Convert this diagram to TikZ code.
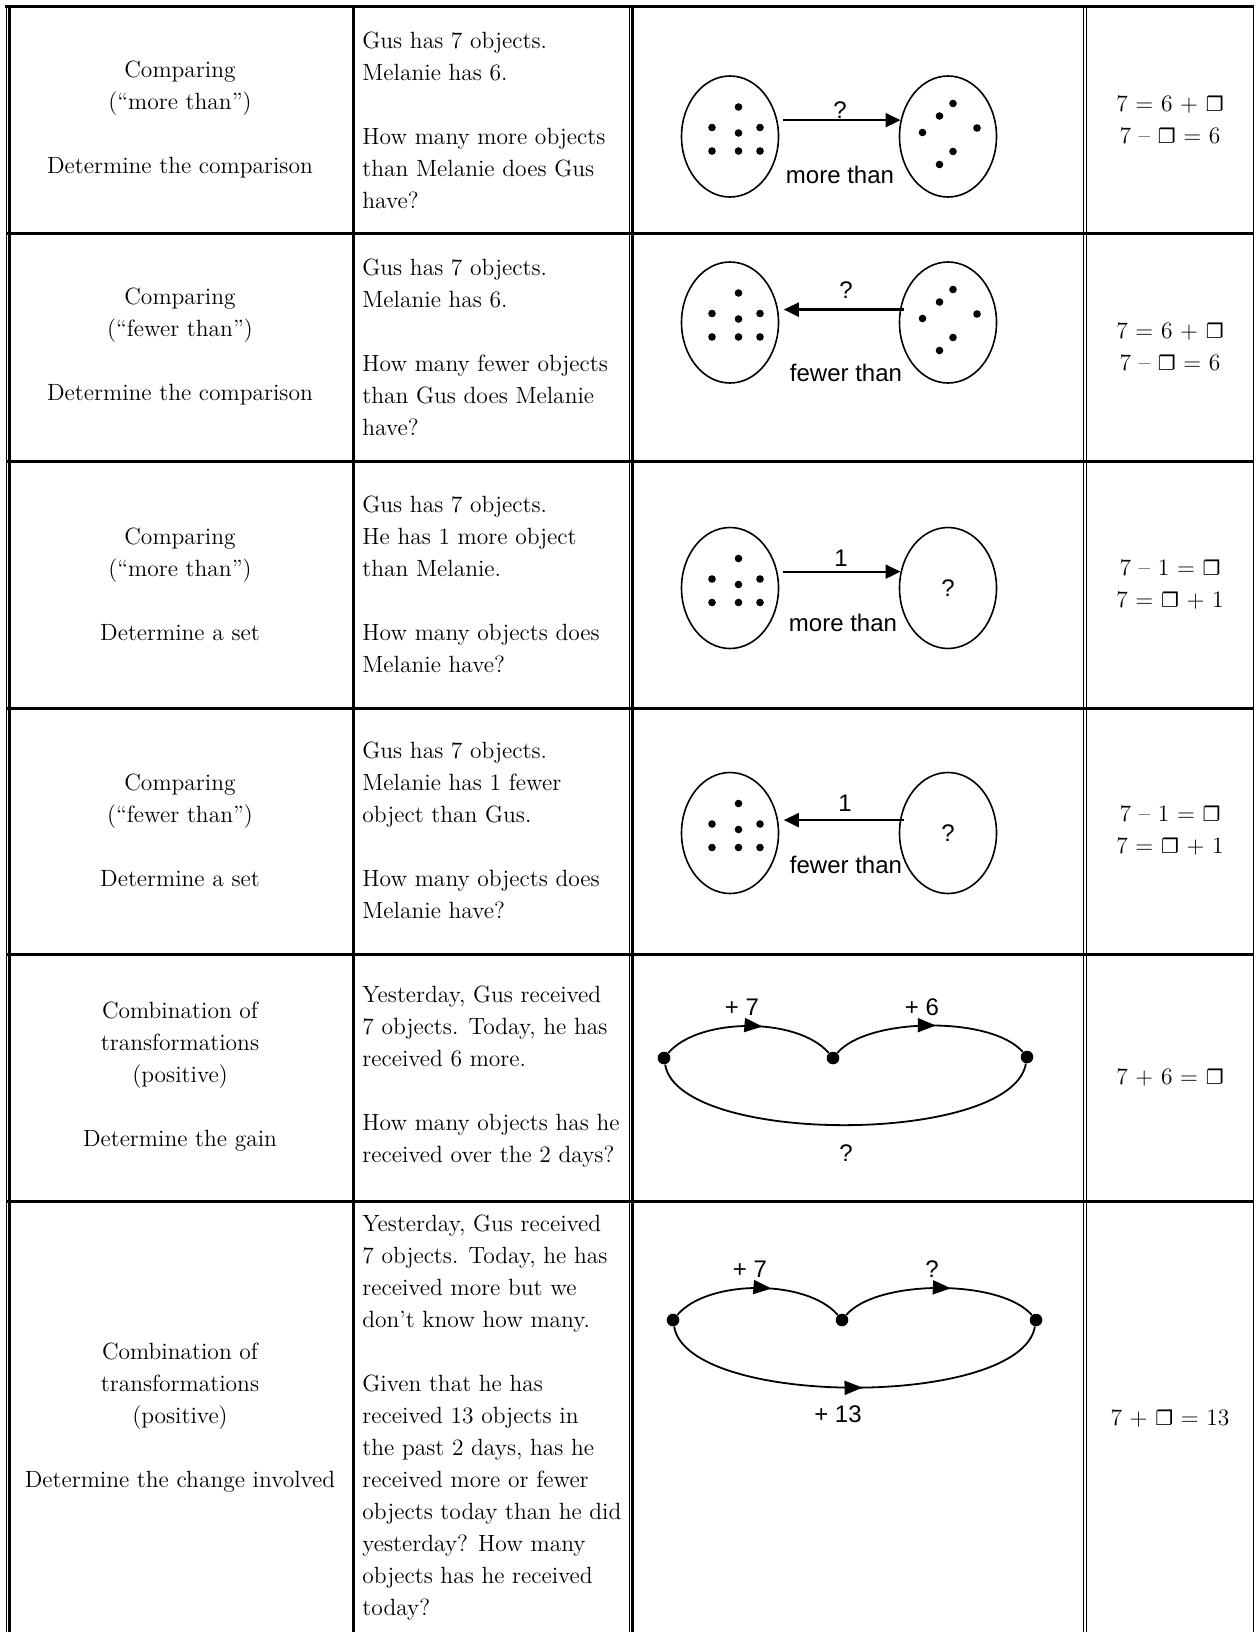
\documentclass[tikz,border=0pt]{standalone}
\usepackage{fontspec}
\usetikzlibrary{arrows.meta,decorations.markings,shapes.geometric}
\newfontfamily\arialfont{Liberation Sans}
\newfontfamily\symfont{DejaVu Sans}
\newcommand{\bodyfont}{\fontsize{11.75}{16}\selectfont}
\newcommand{\blank}{{\symfont\fontsize{10}{16}\selectfont ❐}}

\tikzset{
  cell/.style={inner sep=0pt, font=\bodyfont},
  setbox/.style={ellipse, draw, line width=0.8pt, minimum width=48.5pt,
                 minimum height=60.5pt, inner sep=0pt},
  hop/.style={circle, fill, inner sep=0pt, minimum size=6.3pt},
  lbl/.style={inner sep=0pt, font=\arialfont\fontsize{12}{14}\selectfont},
  arr/.style={line width=1.1pt, -{Triangle[length=7.5pt,width=7pt]}},
  curve/.style={line width=0.9pt},
  midarr/.style={postaction={decorate}, decoration={markings,
                 mark=at position #1 with {\arrow{Triangle[length=9pt,width=7pt]}}}},
}

\begin{document}
\begin{tikzpicture}[x=0.5pt,y=-0.5pt]
    \useasboundingbox (0,0) rectangle (1255,1632);
    \pgfmathsetmacro {\yb}{1632}   %bottom of the page
    \pgfmathsetmacro {\xl}{730}    %x of left sets
    \pgfmathsetmacro {\xr}{948}    %x of right sets

    %Table rules
    \draw[line width=1.5pt] (5,6.5) -- (1253.8,6.5);           % top rule
    \draw[line width=0.5pt] (6.5,5) -- (6.5,\yb);              % left rule, thin
    \draw[line width=1.5pt] (9.5,7) -- (9.5,\yb);              % left rule, thick
    \draw[line width=1.5pt] (353.5,7) -- (353.5,\yb);
    \draw[line width=0.5pt] (629.5,7) -- (629.5,\yb);
    \draw[line width=1.5pt] (632.5,7) -- (632.5,\yb);
    \draw[line width=0.5pt] (1083.5,7) -- (1083.5,\yb);
    \draw[line width=0.5pt] (1086.5,7) -- (1086.5,\yb);
    \draw[line width=0.6pt] (1253.3,5) -- (1253.3,\yb);       % right rule
    \foreach \y in {233.5,461.5,708.5,954,1201.5}
        \draw[line width=1.5pt] (6,\y) -- (1253.8,\y);        % row rules

    %First column: kind of problem
    \node[cell, align=center] (kind1) at (180,120)
        {Comparing\\(“more than”)\\[16pt]Determine the comparison};
    \node[cell, align=center] (kind2) at (180,347)
        {Comparing\\(“fewer than”)\\[16pt]Determine the comparison};
    \node[cell, align=center] (kind3) at (180,584)
        {Comparing\\(“more than”)\\[16pt]Determine a set};
    \node[cell, align=center] (kind4) at (180,830)
        {Comparing\\(“fewer than”)\\[16pt]Determine a set};
    \node[cell, align=center] (kind5) at (180,1077)
        {Combination of\\transformations\\(positive)\\[16pt]Determine the gain};
    \node[cell, align=center] (kind6) at (180,1418)
        {Combination of\\transformations\\(positive)\\[16pt]Determine the change involved};

    %Second column: the problem
    \node[cell, align=left, anchor=west] (story1) at (362,120)
        {Gus has 7 objects.\\Melanie has 6.\\[16pt]How many more objects\\than Melanie does Gus\\have?};
    \node[cell, align=left, anchor=west] (story2) at (362,347)
        {Gus has 7 objects.\\Melanie has 6.\\[16pt]How many fewer objects\\than Gus does Melanie\\have?};
    \node[cell, align=left, anchor=west] (story3) at (362,584)
        {Gus has 7 objects.\\He has 1 more object\\than Melanie.\\[16pt]How many objects does\\Melanie have?};
    \node[cell, align=left, anchor=west] (story4) at (362,830)
        {Gus has 7 objects.\\Melanie has 1 fewer\\object than Gus.\\[16pt]How many objects does\\Melanie have?};
    \node[cell, align=left, anchor=west] (story5) at (362,1077)
        {Yesterday, Gus received\\7 objects. Today, he has\\received 6 more.\\[16pt]How many objects has he\\received over the 2 days?};
    \node[cell, align=left, anchor=west] (story6) at (362,1418)
        {Yesterday, Gus received\\7 objects. Today, he has\\received more but we\\don’t know how many.\\[16pt]Given that he has\\received 13 objects in\\the past 2 days, has he\\received more or fewer\\objects today than he did\\yesterday? How many\\objects has he received\\today?};

    %Fourth column: equations
    \node[cell, align=center] (eq1) at (1170,120) {7 = 6 + \blank\\7 – \blank{} = 6};
    \node[cell, align=center] (eq2) at (1170,347) {7 = 6 + \blank\\7 – \blank{} = 6};
    \node[cell, align=center] (eq3) at (1170,584) {7 – 1 = \blank\\7 = \blank{} + 1};
    \node[cell, align=center] (eq4) at (1170,830) {7 – 1 = \blank\\7 = \blank{} + 1};
    \node[cell] (eq5) at (1170,1077) {7 + 6 = \blank};
    \node[cell] (eq6) at (1170,1418) {7 + \blank{} = 13};

    %Sets of Gus (left) and Melanie (right)
    \foreach \r/\cy in {1/136.5,2/322.5,3/588,4/833} {
        \node[setbox] (gus\r) at (\xl,\cy) {};
        \node[setbox] (mel\r) at (\xr,\cy) {};
        \foreach \dx/\dy in {8.5/-29.5,-18/-9,8.5/-3.5,30/-9,-18/14.5,8.5/14.5,30/14.5}
            \fill (\xl+\dx,\cy+\dy) circle (1.9pt);       %Gus' objects
    }
    \foreach \cy in {136.5,322.5}
        \foreach \dx/\dy in {5/-33,-8.5/-20.5,-25.5/-4,29/-8.5,5/15,-8.5/28}
            \fill (\xr+\dx,\cy+\dy) circle (1.9pt);       %Melanie's objects

    %Comparison arrows
    \draw[arr] ([xshift=2.5pt]gus1.19) -- (mel1.161);
    \draw[arr] ([xshift=2pt]mel2.165) -- ([xshift=2.8pt]gus2.15);
    \draw[arr] ([xshift=2.5pt]gus3.19) -- (mel3.161);
    \draw[arr] ([xshift=2pt]mel4.165) -- ([xshift=2.8pt]gus4.15);
    \node[lbl] (ask1) at (840,110) {?};
    \node[lbl] (rel1) at (840,175) {more than};
    \node[lbl] (ask2) at (846,290) {?};
    \node[lbl] (rel2) at (846,373) {fewer than};
    \node[lbl] (diff3) at (841,558) {1};
    \node[lbl] (rel3) at (843,623) {more than};
    \node[lbl] (ask3) at (mel3) {?};
    \node[lbl] (diff4) at (845,803) {1};
    \node[lbl] (rel4) at (846,865) {fewer than};
    \node[lbl] (ask4) at (mel4) {?};

    %Transformations
    \node[hop] (a5) at (664,1058) {};
    \node[hop] (b5) at (833,1058) {};
    \node[hop] (c5) at (1027,1057) {};
    \draw[curve, midarr=0.58] (a5) .. controls +(35,-41) and +(-35,-41) .. (b5);
    \draw[curve, midarr=0.53] (b5) .. controls +(35,-41) and +(-35,-41) .. (c5);
    \draw[curve] (a5) .. controls +(15,88) and +(-15,88) .. (c5);
    \node[lbl] (gain5) at (742,1007) {+ 7};
    \node[lbl] (gainb5) at (922,1007) {+ 6};
    \node[lbl] (total5) at (846,1153) {?};

    \node[hop] (a6) at (673,1320) {};
    \node[hop] (b6) at (842,1320) {};
    \node[hop] (c6) at (1036,1320) {};
    \draw[curve, midarr=0.58] (a6) .. controls +(35,-41) and +(-35,-41) .. (b6);
    \draw[curve, midarr=0.56] (b6) .. controls +(35,-41) and +(-35,-41) .. (c6);
    \draw[curve, midarr=0.52] (a6) .. controls +(15,88) and +(-15,88) .. (c6);
    \node[lbl] (gain6) at (750,1269) {+ 7};
    \node[lbl] (gainb6) at (932,1269) {?};
    \node[lbl] (total6) at (838,1414) {+ 13};
\end{tikzpicture}
\end{document}
